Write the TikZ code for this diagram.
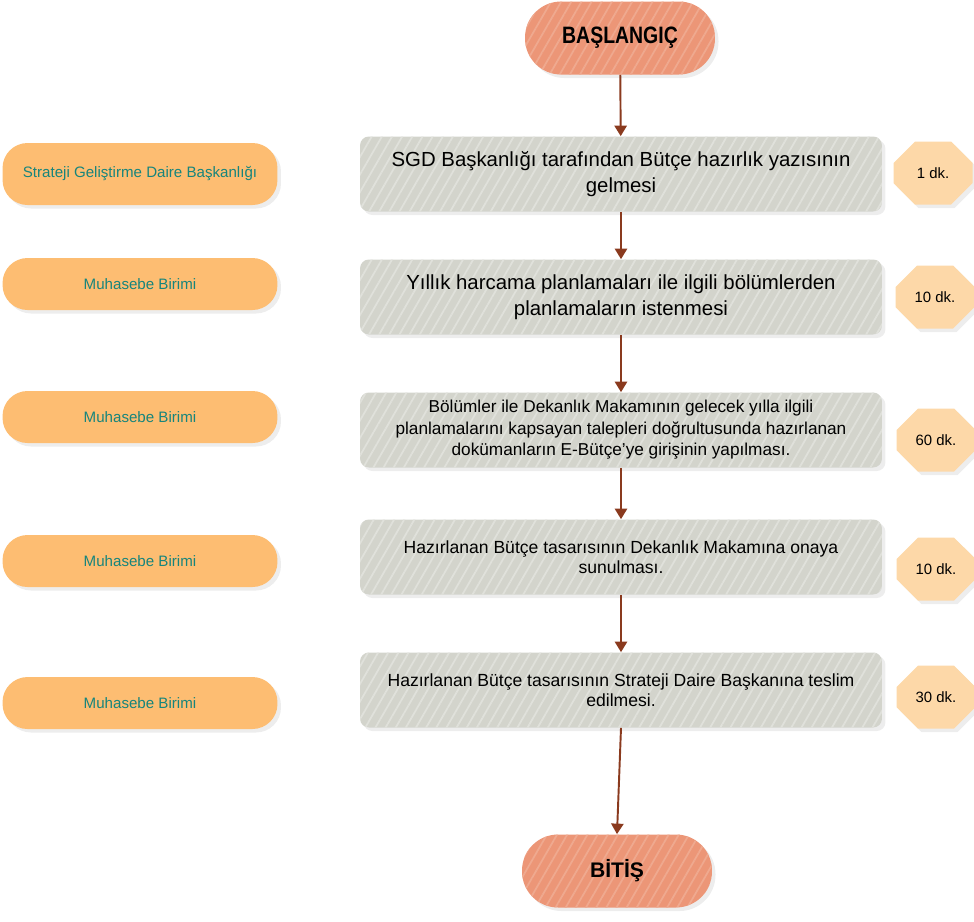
\documentclass[tikz,border=0pt]{standalone}
\usepackage{fontspec}
\setmainfont{Liberation Sans}
\usetikzlibrary{arrows.meta,shapes.misc,shadows,patterns.meta}
\definecolor{salmon}{HTML}{EC9677}
\definecolor{procgray}{HTML}{D3D4CC}
\definecolor{unitorange}{HTML}{FDBD72}
\definecolor{unitteal}{HTML}{17857C}
\definecolor{timepeach}{HTML}{FDD8A8}
\definecolor{flowbrown}{HTML}{8A3A1E}
\begin{document}
\begin{tikzpicture}[x=0.02cm,y=-0.02cm,
		shade/.style={drop shadow={fill=gray!40,opacity=0.35,shadow xshift=2pt,shadow yshift=-2pt}},
		stripes/.style={postaction={pattern={Lines[angle=60,distance=5pt,line width=1pt]},pattern color=#1}},
		terminal/.style={shade,stripes=salmon!82!white,fill=salmon,rounded corners=0.72cm,minimum width=3.8cm,minimum height=1.46cm,font=\fontsize{12}{15}\selectfont\bfseries},
		process/.style={shade,stripes=procgray!70!white,fill=procgray,rounded corners=5pt,minimum width=10.44cm,minimum height=1.5cm,align=center},
		unit/.style={shade,fill=unitorange,rounded corners=0.5cm,minimum width=5.5cm,minimum height=1.04cm,text=unitteal,font=\fontsize{8.6}{10}\selectfont},
		duration/.style={shade,fill=timepeach,chamfered rectangle,chamfered rectangle xsep=0.32cm,chamfered rectangle ysep=0.32cm,inner sep=0pt,minimum width=1.58cm,minimum height=1.26cm,font=\fontsize{8.5}{10}\selectfont},
		flow/.style={draw=flowbrown,line width=1.1pt,-{Triangle[width=7pt,length=6pt]}}]
	\useasboundingbox (0,0) rectangle (974,921);
	
	\node[terminal] (start) at (620,38) {\fontsize{13.5}{15}\selectfont\scalebox{0.82}[1]{BAŞLANGIÇ}};
	
	\node[process,font=\fontsize{11.6}{15}\selectfont] (p1) at (621,174) {SGD Başkanlığı tarafından Bütçe hazırlık yazısının\\gelmesi};
	\node[process,font=\fontsize{11.6}{14.7}\selectfont] (p2) at (621,297) {Yıllık harcama planlamaları ile ilgili bölümlerden\\planlamaların istenmesi};
	\node[process,font=\fontsize{9.8}{12.2}\selectfont] (p3) at (621,430) {Bölümler ile Dekanlık Makamının gelecek yılla ilgili\\planlamalarını kapsayan talepleri doğrultusunda hazırlanan\\dokümanların E-Bütçe’ye girişinin yapılması.};
	\node[process,font=\fontsize{10}{11.5}\selectfont] (p4) at (621,557) {Hazırlanan Bütçe tasarısının Dekanlık Makamına onaya\\sunulması.};
	\node[process,font=\fontsize{10}{11.5}\selectfont] (p5) at (621,690) {Hazırlanan Bütçe tasarısının Strateji Daire Başkanına teslim\\edilmesi.};
	
	\node[terminal] (stop) at (617,871) {BİTİŞ};
	
	\node[unit,minimum height=1.24cm] (u1) at (140,174) {Strateji Geliştirme Daire Başkanlığı};
	\node[unit] (u2) at (140,284) {Muhasebe Birimi};
	\node[unit] (u3) at (140,417) {Muhasebe Birimi};
	\node[unit] (u4) at (140,561) {Muhasebe Birimi};
	\node[unit] (u5) at (140,703) {Muhasebe Birimi};
	
	\node[duration] (t1) at (933,173) {1 dk.};
	\node[duration] (t2) at (935,297) {10 dk.};
	\node[duration] (t3) at (936,440) {60 dk.};
	\node[duration] (t4) at (936,569) {10 dk.};
	\node[duration] (t5) at (936,697) {30 dk.};
	
	\draw[flow] (start) -- (p1);
	\draw[flow] (p1) -- (p2);
	\draw[flow] (p2) -- (p3);
	\draw[flow] (p3) -- (p4);
	\draw[flow] (p4) -- (p5);
	\draw[flow] (p5.south) -- (stop.north);
\end{tikzpicture}
\end{document}
